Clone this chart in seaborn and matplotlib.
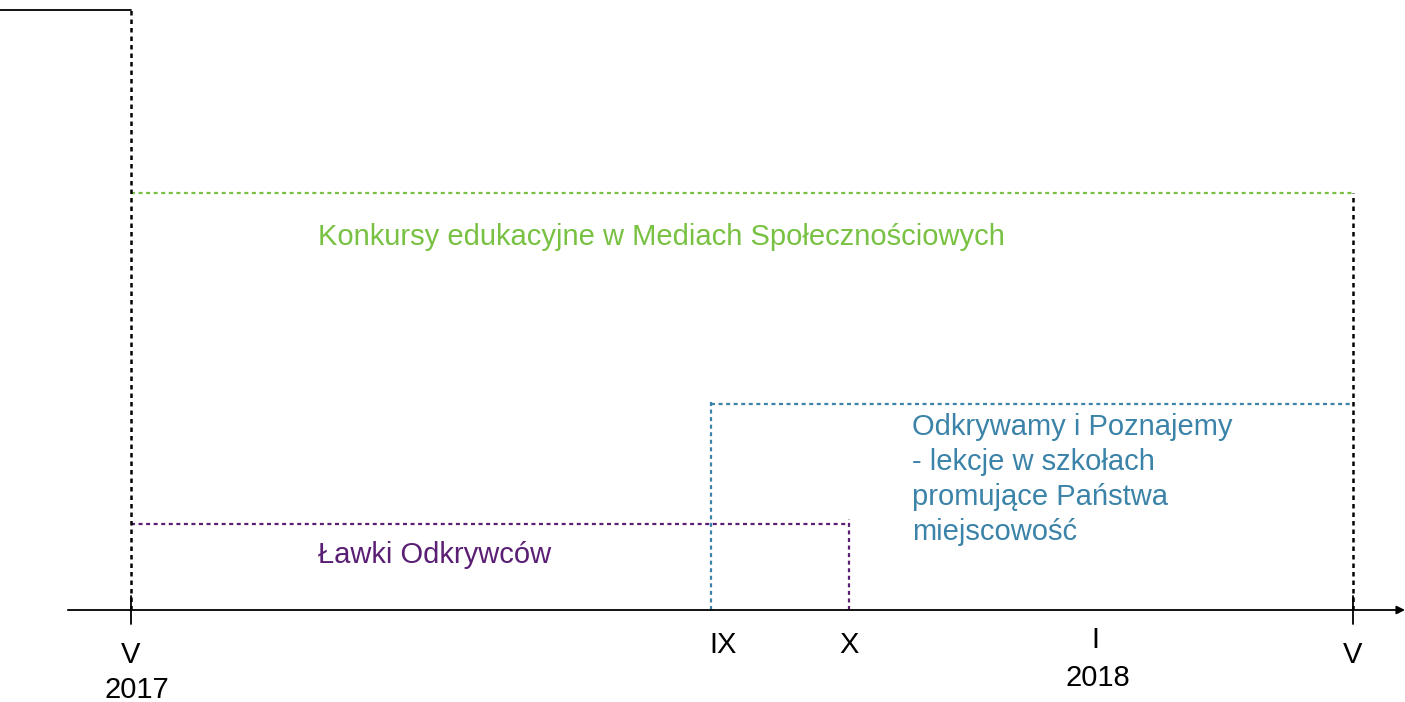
import numpy as np
import pandas as pd
import matplotlib.pyplot as plt
import seaborn as sns

# ---------------- DATA ----------------
# timeline positions (month index from V 2017, as placed on the picture)
tick_labels = ["V\n2017", "IX", "X", "I\n2018", "V"]
tick_pos = [0.0, 5.7, 7.05, 9.47, 12.0]

activities = ["Konkursy edukacyjne w Mediach Społecznościowych",
              "Odkrywamy i Poznajemy\n- lekcje w szkołach\npromujące Państwa\nmiejscowość",
              "Ławki Odkrywców"]
act_start = [0.0, 5.7, 0.0]
act_end = [12.0, 12.0, 7.05]
act_level = [417, 206, 86]
act_colors = ["#78c142", "#3b83a8", "#5a1f74"]

GREEN, BLUE, PURPLE = act_colors

sns.set_theme(style="white")
plt.rcParams['font.family'] = ['Liberation Sans', 'DejaVu Sans']
plt.rcParams['text.color'] = 'black'

fig = plt.figure(figsize=(14.05, 7.02), dpi=100)
ax = fig.add_axes([0, 0, 1, 1])
ax.set_xlim(-1.286, 12.51)
ax.set_ylim(-92, 610)
ax.axis('off')

dot = (0, (1.8, 1.6))


def seg(x, y, color, lw=1.6, ls=dot):
    df = pd.DataFrame({"x": x, "y": y})
    sns.lineplot(data=df, x="x", y="y", ax=ax, color=color, linewidth=lw,
                 linestyle=ls, sort=False, estimator=None)


# green: horizontal only
seg([act_start[0], act_end[0]], [act_level[0]] * 2, GREEN)

# blue: vertical at start + horizontal
seg([act_start[1]] * 2, [0, act_level[1] + 4], BLUE)
seg([act_start[1], act_end[1]], [act_level[1]] * 2, BLUE)

# purple: horizontal + vertical at end
seg([act_start[2], act_end[2]], [act_level[2]] * 2, PURPLE)
seg([act_end[2]] * 2, [0, act_level[2] + 5], PURPLE)

# black dashed verticals at V 2017 and V 2018
seg([tick_pos[0]] * 2, [0, 600], "black", lw=1.8, ls=(0, (1.8, 1.6)))
seg([tick_pos[-1]] * 2, [0, act_level[0]], "black", lw=1.8, ls=(0, (1.8, 1.6)))
seg([-1.286, tick_pos[0]], [600, 600], "black", lw=1.3, ls="-")

# time axis with arrow
ax.annotate("", xy=(12.51, 0), xytext=(-0.62, 0),
            arrowprops=dict(arrowstyle="-|>", color="black", lw=1.3,
                            mutation_scale=12, shrinkA=0, shrinkB=0))
for p in [tick_pos[0], tick_pos[-1]]:
    seg([p, p], [-14, 14], "black", lw=1.3, ls="-")

# tick labels
fs = 21
ax.text(tick_pos[0], -45, "V", ha="center", va="center", fontsize=fs)
ax.text(tick_pos[0] + 0.06, -80, "2017", ha="center", va="center", fontsize=fs)
ax.text(tick_pos[1] + 0.11, -35, tick_labels[1], ha="center", va="center", fontsize=fs)
ax.text(tick_pos[2], -35, tick_labels[2], ha="center", va="center", fontsize=fs)
ax.text(tick_pos[3], -30, "I", ha="center", va="center", fontsize=fs)
ax.text(tick_pos[3] + 0.02, -68, "2018", ha="center", va="center", fontsize=fs)
ax.text(tick_pos[4], -45, tick_labels[4], ha="center", va="center", fontsize=fs)

# activity labels
ax.text(1.836, 373, activities[0], color=GREEN, fontsize=21, va="center", ha="left")
ax.text(7.67, 197, activities[1], color=BLUE, fontsize=21, va="top", ha="left",
        linespacing=1.32)
ax.text(1.836, 55, activities[2], color=PURPLE, fontsize=21, va="center", ha="left")

plt.savefig("out.png", dpi=100)
